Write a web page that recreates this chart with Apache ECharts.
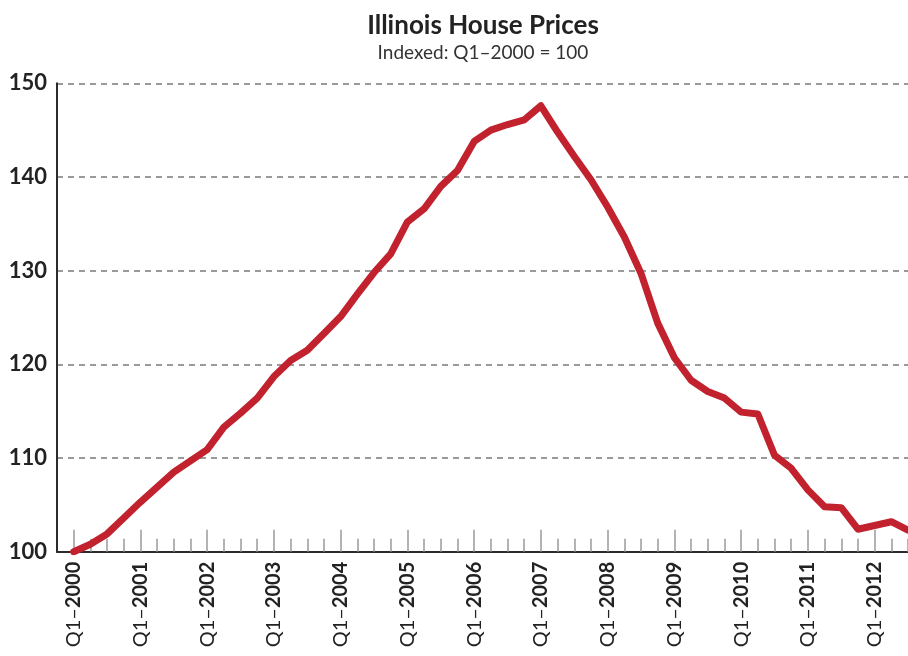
<!DOCTYPE html>
<html>
<head>
<meta charset="utf-8">
<script src="https://cdn.jsdelivr.net/npm/echarts@6/dist/echarts.min.js"></script>
<style>
  html, body { margin: 0; padding: 0; background: #fff; }
  #chart { width: 908px; height: 656px; }
</style>
</head>
<body>
<div id="chart"></div>
<script>
// Quarter labels: leading blank slot (Q4-1999) then Q1-2000 .. Q3-2012
const years = [2000, 2001, 2002, 2003, 2004, 2005, 2006, 2007, 2008, 2009, 2010, 2011, 2012];
const quarterNames = ['Q1', 'Q2', 'Q3', 'Q4'];
const yTicks = [100, 110, 120, 130, 140, 150];

// Illinois house price index (Q1-2000 = 100), Q1-2000 .. Q3-2012
const priceIndex = [
  100.0, 100.8, 101.9, 103.6,   // 2000
  105.3, 106.9, 108.5, 109.7,   // 2001
  110.9, 113.3, 114.8, 116.4,   // 2002
  118.7, 120.4, 121.5, 123.3,   // 2003
  125.1, 127.5, 129.8, 131.8,   // 2004
  135.2, 136.6, 139.0, 140.7,   // 2005
  143.8, 145.0, 145.6, 146.1,   // 2006
  147.6, 144.8, 142.2, 139.7,   // 2007
  136.8, 133.6, 129.7, 124.4,   // 2008
  120.7, 118.3, 117.1, 116.4,   // 2009
  114.9, 114.7, 110.3, 108.9,   // 2010
  106.6, 104.8, 104.7, 102.4,   // 2011
  102.8, 103.2, 102.3           // 2012
];

const categories = [''];
years.forEach(y => quarterNames.forEach(q => categories.push(q + '–' + y)));
const categoriesUsed = categories.slice(0, priceIndex.length + 1);
const seriesData = [null].concat(priceIndex);

const FONT = 'Lato, "Open Sans", sans-serif';
const chart = echarts.init(document.getElementById('chart'), null, { renderer: 'canvas' });

const option = {
  animation: false,
  backgroundColor: '#ffffff',
  title: {
    text: 'Illinois House Prices',
    subtext: 'Indexed: Q1–2000 = 100',
    left: 478,
    top: 8,
    textAlign: 'center',
    itemGap: 4,
    textStyle: { fontFamily: FONT, fontSize: 26, fontWeight: 'bold', color: '#222' },
    subtextStyle: { fontFamily: FONT, fontSize: 19, color: '#333' }
  },
  grid: { left: 57, right: -4, top: 83.3, bottom: 104.3, containLabel: false },
  xAxis: [
    {
      type: 'category',
      data: categoriesUsed,
      boundaryGap: false,
      position: 'bottom',
      axisLine: { show: true, onZero: false, lineStyle: { color: '#2b2b2b', width: 2 } },
      axisTick: {
        show: true, inside: true, length: 22,
        interval: (idx) => idx % 4 === 1,
        lineStyle: { color: '#9a9a9a', width: 1.5 }
      },
      axisLabel: {
        show: true,
        rotate: 90,
        margin: 10,
        interval: (idx) => idx % 4 === 1,
        formatter: (v) => {
          const parts = v.split('–');
          return '{a|' + parts[0] + '–}{b|' + parts[1] + '}';
        },
        rich: {
          a: { fontFamily: FONT, fontSize: 20, color: '#222', fontWeight: 'normal' },
          b: { fontFamily: FONT, fontSize: 20, color: '#222', fontWeight: 'bold' }
        }
      },
      splitLine: { show: false }
    },
    {
      type: 'category',
      data: categoriesUsed,
      boundaryGap: false,
      position: 'bottom',
      axisLine: { show: false, onZero: false },
      axisTick: {
        show: true, inside: true, length: 13,
        interval: (idx) => idx >= 1,
        lineStyle: { color: '#9a9a9a', width: 1.5 }
      },
      axisLabel: { show: false },
      splitLine: { show: false }
    }
  ],
  yAxis: {
    type: 'value',
    min: yTicks[0],
    max: yTicks[yTicks.length - 1],
    interval: 10,
    axisLine: { show: true, lineStyle: { color: '#2b2b2b', width: 2 } },
    axisTick: { show: false },
    axisLabel: {
      margin: 10,
      fontFamily: FONT, fontSize: 22, fontWeight: 'bold', color: '#222'
    },
    splitLine: {
      show: true,
      lineStyle: { color: '#9a9a9a', width: 2, type: [6, 5] }
    }
  },
  series: [
    {
      type: 'line',
      xAxisIndex: 0,
      data: seriesData,
      showSymbol: false,
      symbol: 'none',
      connectNulls: false,
      clip: true,
      lineStyle: { color: '#c1222e', width: 7, cap: 'round', join: 'round' },
      z: 5
    }
  ]
};
chart.setOption(option);
</script>
</body>
</html>
